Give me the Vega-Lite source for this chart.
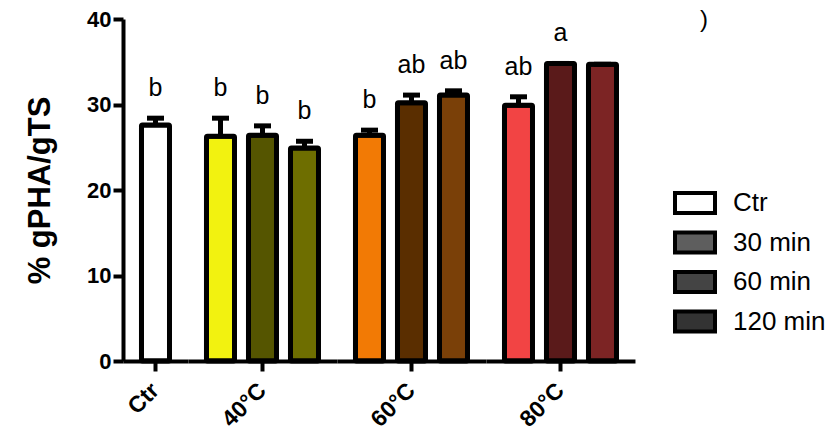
{
  "$schema": "https://vega.github.io/schema/vega-lite/v6.json",
  "padding": {"left": 24, "top": 8, "right": 5, "bottom": 5},
  "title": {"text": ")", "anchor": "end", "frame": "bounds", "orient": "top", "offset": -24, "dx": -118, "fontSize": 24, "fontWeight": "normal", "color": "black", "font": "Liberation Sans"},
  "config": {
    "view": {"stroke": null},
    "font": "Liberation Sans",
    "axisY": {
      "grid": false,
      "domainWidth": 4,
      "domainColor": "black",
      "tickWidth": 4,
      "tickSize": 10,
      "tickColor": "black",
      "labelFontSize": 22,
      "labelFontWeight": "bold",
      "labelColor": "black",
      "labelPadding": 2,
      "titleFontSize": 31,
      "titleFontWeight": "bold",
      "titleColor": "black",
      "titlePadding": 30
    },
    "axisX": {
      "labels": false,
      "domainWidth": 4,
      "domainColor": "black",
      "tickWidth": 4,
      "tickSize": 10,
      "tickColor": "black"
    },
    "header": {
      "labelFontSize": 23,
      "labelFontWeight": "bold",
      "labelFont": "Liberation Sans",
      "labelColor": "black"
    },
    "legend": {"labelFont": "Liberation Sans", "labelFontSize": 26, "labelColor": "black"}
  },
  "data": {
    "values": [
      {"group": "Ctr", "time": "Ctr", "bar": "Ctr", "mean": 27.6, "hi": 28.4, "letter": "b"},
      {"group": "40°C", "time": "30 min", "bar": "40-30", "mean": 26.3, "hi": 28.4, "letter": "b"},
      {"group": "40°C", "time": "60 min", "bar": "40-60", "mean": 26.4, "hi": 27.5, "letter": "b"},
      {"group": "40°C", "time": "120 min", "bar": "40-120", "mean": 24.9, "hi": 25.7, "letter": "b"},
      {"group": "60°C", "time": "30 min", "bar": "60-30", "mean": 26.4, "hi": 27.0, "letter": "b"},
      {"group": "60°C", "time": "60 min", "bar": "60-60", "mean": 30.2, "hi": 31.1, "letter": "ab"},
      {"group": "60°C", "time": "120 min", "bar": "60-120", "mean": 31.1, "hi": 31.6, "letter": "ab"},
      {"group": "80°C", "time": "30 min", "bar": "80-30", "mean": 29.9, "hi": 30.9, "letter": "ab"},
      {"group": "80°C", "time": "60 min", "bar": "80-60", "mean": 34.8, "hi": 34.8, "letter": "a"},
      {"group": "80°C", "time": "120 min", "bar": "80-120", "mean": 34.7, "hi": 34.7, "letter": ""}
    ]
  },
  "facet": {
    "column": {
      "field": "group",
      "type": "nominal",
      "sort": ["Ctr", "40°C", "60°C", "80°C"],
      "title": null,
      "header": {
        "labelOrient": "bottom",
        "labelAngle": -45,
        "labelAlign": "right",
        "labelBaseline": "middle",
        "labelPadding": 14
      }
    }
  },
  "spacing": 0,
  "align": "none",
  "resolve": {"scale": {"x": "independent"}},
  "spec": {
    "width": {"step": 42},
    "height": 342,
    "encoding": {
      "x": {
        "field": "time",
        "type": "nominal",
        "sort": ["Ctr", "30 min", "60 min", "120 min"],
        "scale": {"paddingInner": 0.333, "paddingOuter": 0.44},
        "axis": {
          "title": null,
          "tickOpacity": {"condition": {"test": "datum.value === 'Ctr' || datum.value === '60 min'", "value": 1}, "value": 0}
        }
      },
      "y": {
        "field": "mean",
        "type": "quantitative",
        "scale": {"domain": [0, 40], "nice": false},
        "axis": {"values": [0, 10, 20, 30, 40], "title": "% gPHA/gTS"}
      }
    },
    "layer": [
      {
        "mark": {"type": "bar", "opacity": 0},
        "encoding": {
          "fill": {
            "field": "time",
            "type": "nominal",
            "sort": ["Ctr", "30 min", "60 min", "120 min"],
            "scale": {"domain": ["Ctr", "30 min", "60 min", "120 min"], "range": ["#ffffff", "#5e5e5e", "#444444", "#333333"]},
            "legend": {
              "title": null,
              "orient": "none",
              "legendX": 550,
              "legendY": 166,
              "symbolType": "M-1,-0.5H1V0.5H-1Z",
              "symbolSize": 1600,
              "symbolStrokeColor": "black",
              "symbolStrokeWidth": 4,
              "symbolOpacity": 1,
              "labelOffset": 16,
              "clipHeight": 36,
              "rowPadding": 3.5
            }
          }
        }
      },
      {
        "mark": {"type": "bar", "stroke": "black", "strokeWidth": 5, "cornerRadius": 1},
        "encoding": {
          "color": {
            "field": "bar",
            "type": "nominal",
            "scale": {
              "domain": ["Ctr", "40-30", "40-60", "40-120", "60-30", "60-60", "60-120", "80-30", "80-60", "80-120"],
              "range": ["#ffffff", "#f2f210", "#555500", "#6e6e00", "#f27a05", "#5a2e00", "#7a4008", "#f24444", "#5a1a1a", "#7c2424"]
            },
            "legend": null
          }
        }
      },
      {
        "mark": {"type": "rule", "strokeWidth": 5, "color": "black"},
        "encoding": {
          "y2": {"field": "hi"}
        }
      },
      {
        "mark": {"type": "tick", "thickness": 5, "size": 17, "color": "black", "opacity": 1},
        "encoding": {
          "y": {"field": "hi", "type": "quantitative"}
        }
      },
      {
        "mark": {"type": "text", "fontSize": 25, "dy": -22, "baseline": "alphabetic", "color": "black", "font": "Liberation Sans"},
        "encoding": {
          "y": {"field": "hi", "type": "quantitative"},
          "text": {"field": "letter"}
        }
      }
    ]
  }
}
